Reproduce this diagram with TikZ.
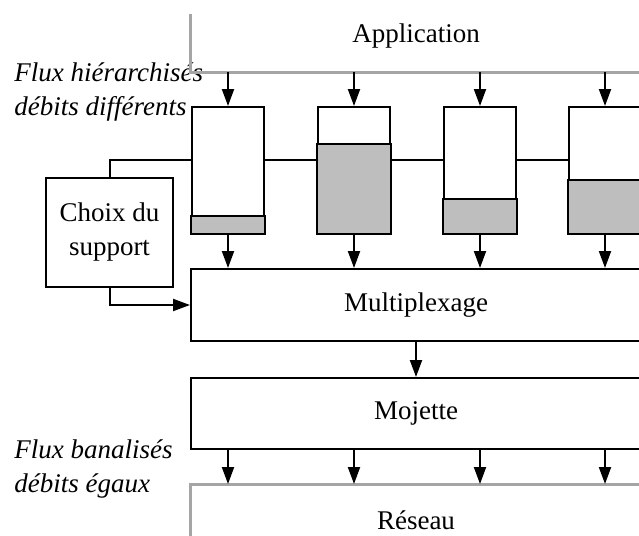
\documentclass[tikz,border=0pt]{standalone}
\usepackage{fontspec}
\setmainfont{Liberation Serif}
\usepackage{tikz}
\usetikzlibrary{arrows,arrows.meta}
\definecolor{grisfond}{RGB}{190,190,190}
\definecolor{gristrait}{RGB}{165,165,165}

\begin{document}
\begin{tikzpicture}[x=1pt,y=-1pt,line width=2pt,>={Triangle[length=17pt,width=12pt]}]
\tikzset{every node/.style={font=\fontsize{27}{34}\selectfont}}
\tikzset{bloc/.style={draw,rectangle,anchor=north west,minimum width=450pt,inner sep=0pt}}
\tikzset{tampon/.style={draw,rectangle,anchor=north west,minimum width=72pt,minimum height=126pt,inner sep=0pt}}
\tikzset{legende/.style={align=left,anchor=west,font=\fontsize{27}{34}\selectfont\itshape}}
\useasboundingbox (0,0) rectangle (639,535);
\clip (0,0) rectangle (639,535);

\node[bloc,draw=none,minimum height=70pt] (app) at (190,0) {Application};
\node[tampon] (buf1) at (191,106) {};
\node[tampon] (buf2) at (317,106) {};
\node[tampon] (buf3) at (443,106) {};
\node[tampon] (buf4) at (568,106) {};
\node[draw,rectangle,minimum width=127pt,minimum height=109pt,align=center,inner sep=0pt] (choix) at (109.5,232.5) {Choix du\\support};
\node[bloc,minimum height=72pt] (mux) at (190,268) {Multiplexage};
\node[bloc,minimum height=71pt] (moj) at (190,377) {Mojette};
\node[bloc,draw=none,minimum height=71pt] (res) at (190,484) {Réseau};
\node[legende] (hier) at (10,92) {Flux hiérarchisés\\débits différents};
\node[legende] (banal) at (10,469) {Flux banalisés\\débits égaux};

\draw[gristrait,line width=3pt] ([yshift=-14pt]app.north west) -- (app.south west) -- (app.south east);
\draw[gristrait,line width=3pt] (res.south west) -- (res.north west) -- (res.north east);

\foreach \n/\h in {1/18,2/90,3/35,4/54}
  \draw[fill=grisfond] (buf\n.south west) rectangle ([yshift=\h pt]buf\n.south east);

\draw ([yshift=10pt]buf1.west) -| (choix.north);
\foreach \a/\b in {1/2,2/3,3/4}
  \draw ([yshift=10pt]buf\a.east) -- ([yshift=10pt]buf\b.west);
\draw[->] (choix.south) |- (mux.west);

\foreach \n in {1,...,4}{
  \draw[->] (buf\n.north |- app.south) -- (buf\n.north);
  \draw[->] (buf\n.south) -- (buf\n.south |- mux.north);
  \draw[->] (buf\n.south |- moj.south) -- (buf\n.south |- res.north);
}
\draw[->] (mux.south) -- (moj.north);

\end{tikzpicture}
\end{document}
